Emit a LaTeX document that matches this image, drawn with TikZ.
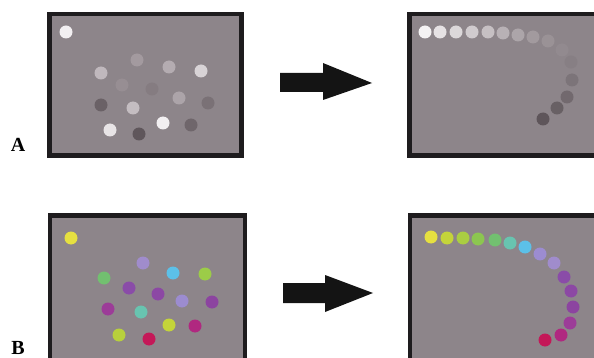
\documentclass[tikz,border=0pt]{standalone}
\usepackage{fontspec}
\setmainfont{Liberation Serif}
\definecolor{panelbg}{RGB}{141,133,138}
\definecolor{frame}{RGB}{30,28,30}
\tikzset{
  panel/.style={fill=panelbg, draw=frame, line width=4.5pt},
  dot/.style={circle, inner sep=0pt, minimum size=13pt},
  bigarrow/.style={fill=black!92},
  lbl/.style={font=\bfseries\fontsize{20}{20}\selectfont, inner sep=0pt}
}
\begin{document}
\begin{tikzpicture}[x=1pt,y=-1pt]
\useasboundingbox (0,0) rectangle (594,358);
\clip (0,0) rectangle (594,358);
% panels
\draw[panel] (49.5,14) rectangle (241.5,155.5);
\draw[panel] (409.5,14) rectangle (605,155.5);
\draw[panel] (50,215.5) rectangle (245,365);
\draw[panel] (410,215.5) rectangle (605,365);
% arrows
\fill[bigarrow] (280,73) -- (323,73) -- (323,63) -- (372,83) -- (323,100) -- (323,92) -- (280,92) -- cycle;
\fill[bigarrow] (283,283) -- (325,283) -- (325,275) -- (373,293) -- (325,312) -- (325,303) -- (283,303) -- cycle;
% labels
\node[lbl] (la) at (18,145) {A};
\node[lbl] (lb) at (18,348) {B};
% A left dots
\node[dot, fill={rgb,255:red,242;green,239;blue,241}] (a1) at (66,32) {};
\node[dot, fill={rgb,255:red,192;green,184;blue,189}] (a2) at (101,73) {};
\node[dot, fill={rgb,255:red,163;green,154;blue,159}] (a3) at (137,60) {};
\node[dot, fill={rgb,255:red,180;green,172;blue,177}] (a4) at (169,67) {};
\node[dot, fill={rgb,255:red,216;green,211;blue,214}] (a5) at (201,71) {};
\node[dot, fill={rgb,255:red,151;green,142;blue,147}] (a6) at (122,85) {};
\node[dot, fill={rgb,255:red,133;green,124;blue,129}] (a7) at (152,89) {};
\node[dot, fill={rgb,255:red,172;green,164;blue,169}] (a8) at (179,98) {};
\node[dot, fill={rgb,255:red,106;green,97;blue,102}] (a9) at (101,105) {};
\node[dot, fill={rgb,255:red,196;green,189;blue,193}] (a10) at (133,108) {};
\node[dot, fill={rgb,255:red,122;green,113;blue,118}] (a11) at (208,103) {};
\node[dot, fill={rgb,255:red,232;green,228;blue,230}] (a12) at (110,130) {};
\node[dot, fill={rgb,255:red,95;green,86;blue,91}] (a13) at (139,134) {};
\node[dot, fill={rgb,255:red,242;green,239;blue,241}] (a14) at (163,123) {};
\node[dot, fill={rgb,255:red,111;green,102;blue,107}] (a15) at (191,125) {};
% A right dots
\node[dot, fill={rgb,255:red,244;green,242;blue,243}] (r1) at (425,32) {};
\node[dot, fill={rgb,255:red,230;green,226;blue,228}] (r2) at (440,32) {};
\node[dot, fill={rgb,255:red,220;green,216;blue,218}] (r3) at (456,32) {};
\node[dot, fill={rgb,255:red,208;green,203;blue,206}] (r4) at (472,32) {};
\node[dot, fill={rgb,255:red,198;green,192;blue,195}] (r5) at (488,32) {};
\node[dot, fill={rgb,255:red,184;green,177;blue,181}] (r6) at (503,33) {};
\node[dot, fill={rgb,255:red,172;green,165;blue,169}] (r7) at (518,35) {};
\node[dot, fill={rgb,255:red,162;green,154;blue,158}] (r8) at (533,37) {};
\node[dot, fill={rgb,255:red,154;green,146;blue,150}] (r9) at (548,41) {};
\node[dot, fill={rgb,255:red,146;green,138;blue,143}] (r10) at (562,50) {};
\node[dot, fill={rgb,255:red,135;green,127;blue,132}] (r11) at (571,62) {};
\node[dot, fill={rgb,255:red,124;green,116;blue,121}] (r12) at (572,80) {};
\node[dot, fill={rgb,255:red,114;green,105;blue,110}] (r13) at (567,97) {};
\node[dot, fill={rgb,255:red,104;green,96;blue,100}] (r14) at (557,108) {};
\node[dot, fill={rgb,255:red,94;green,85;blue,90}] (r15) at (543,119) {};
% B left dots
\node[dot, fill={rgb,255:red,230;green,224;blue,64}] (b1) at (71,238) {};
\node[dot, fill={rgb,255:red,160;green,140;blue,204}] (b2) at (143,263) {};
\node[dot, fill={rgb,255:red,114;green,192;blue,112}] (b3) at (104,278) {};
\node[dot, fill={rgb,255:red,92;green,192;blue,232}] (b4) at (173,273) {};
\node[dot, fill={rgb,255:red,156;green,204;blue,72}] (b5) at (205,274) {};
\node[dot, fill={rgb,255:red,138;green,76;blue,168}] (b6) at (129,288) {};
\node[dot, fill={rgb,255:red,140;green,72;blue,164}] (b7) at (158,294) {};
\node[dot, fill={rgb,255:red,156;green,140;blue,208}] (b8) at (182,301) {};
\node[dot, fill={rgb,255:red,140;green,68;blue,160}] (b9) at (212,302) {};
\node[dot, fill={rgb,255:red,156;green,60;blue,152}] (b10) at (108,309) {};
\node[dot, fill={rgb,255:red,104;green,196;blue,176}] (b11) at (141,312) {};
\node[dot, fill={rgb,255:red,196;green,212;blue,58}] (b12) at (169,325) {};
\node[dot, fill={rgb,255:red,176;green,40;blue,128}] (b13) at (195,326) {};
\node[dot, fill={rgb,255:red,184;green,208;blue,60}] (b14) at (119,335) {};
\node[dot, fill={rgb,255:red,196;green,24;blue,88}] (b15) at (149,339) {};
% B right dots
\node[dot, fill={rgb,255:red,230;green,224;blue,64}] (s1) at (431,237) {};
\node[dot, fill={rgb,255:red,196;green,212;blue,58}] (s2) at (447,238) {};
\node[dot, fill={rgb,255:red,170;green,206;blue,66}] (s3) at (463,238) {};
\node[dot, fill={rgb,255:red,140;green,198;blue,80}] (s4) at (478,239) {};
\node[dot, fill={rgb,255:red,114;green,192;blue,112}] (s5) at (495,240) {};
\node[dot, fill={rgb,255:red,104;green,196;blue,176}] (s6) at (510,243) {};
\node[dot, fill={rgb,255:red,92;green,192;blue,232}] (s7) at (525,247) {};
\node[dot, fill={rgb,255:red,156;green,140;blue,208}] (s8) at (540,254) {};
\node[dot, fill={rgb,255:red,160;green,140;blue,204}] (s9) at (554,263) {};
\node[dot, fill={rgb,255:red,138;green,76;blue,168}] (s10) at (564,277) {};
\node[dot, fill={rgb,255:red,140;green,72;blue,164}] (s11) at (571,291) {};
\node[dot, fill={rgb,255:red,140;green,68;blue,160}] (s12) at (573,307) {};
\node[dot, fill={rgb,255:red,156;green,60;blue,152}] (s13) at (570,323) {};
\node[dot, fill={rgb,255:red,176;green,40;blue,128}] (s14) at (561,335) {};
\node[dot, fill={rgb,255:red,196;green,24;blue,88}] (s15) at (545,340) {};
\end{tikzpicture}
\end{document}
